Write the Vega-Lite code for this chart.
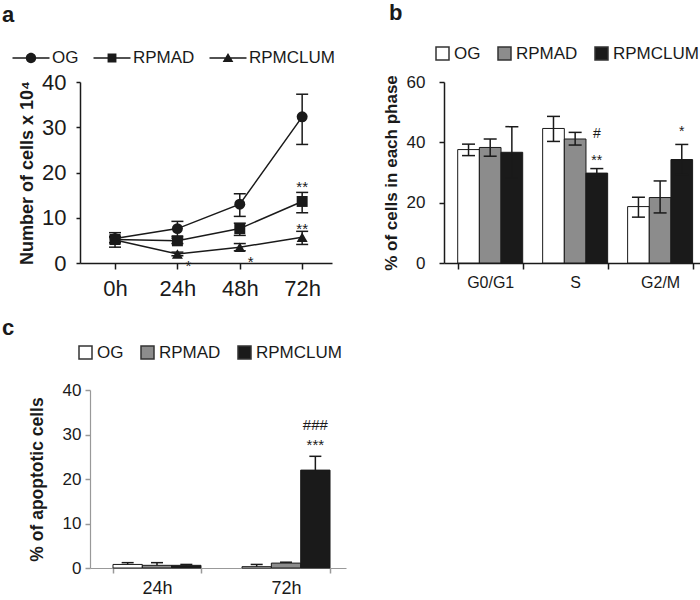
{
  "$schema": "https://vega.github.io/schema/vega-lite/v6.json",
  "padding": {"left": 2, "top": 2, "right": 0, "bottom": 0},
  "config": {
    "font": "Liberation Sans",
    "view": {"stroke": null},
    "axis": {"domainColor": "#1a1a1a", "tickColor": "#1a1a1a", "labelColor": "#1a1a1a", "titleColor": "#1a1a1a", "grid": false, "labelFont": "Liberation Sans", "titleFont": "Liberation Sans", "domainWidth": 1.5, "tickWidth": 1.5, "titleFontWeight": "bold"},
    "legend": {"labelFont": "Liberation Sans", "labelColor": "#1a1a1a"},
    "title": {"font": "Liberation Sans", "fontWeight": "bold", "fontSize": 22, "anchor": "start", "frame": "group", "color": "#1a1a1a"}
  },
  "datasets": {
    "growth": [
      {"time": "0h", "group": "OG", "value": 5.4, "lo": 3.5, "hi": 6.7},
      {"time": "24h", "group": "OG", "value": 7.6, "lo": 5.9, "hi": 9.2},
      {"time": "48h", "group": "OG", "value": 13.0, "lo": 10.3, "hi": 15.3},
      {"time": "72h", "group": "OG", "value": 32.3, "lo": 26.2, "hi": 37.3},
      {"time": "0h", "group": "RPMAD", "value": 5.2, "lo": 4.5, "hi": 5.9},
      {"time": "24h", "group": "RPMAD", "value": 4.9, "lo": 4.3, "hi": 5.5},
      {"time": "48h", "group": "RPMAD", "value": 7.6, "lo": 6.1, "hi": 8.8},
      {"time": "72h", "group": "RPMAD", "value": 13.6, "lo": 11.1, "hi": 15.6},
      {"time": "0h", "group": "RPMCLUM", "value": 5.1, "lo": 4.5, "hi": 5.7},
      {"time": "24h", "group": "RPMCLUM", "value": 2.0, "lo": 1.6, "hi": 2.4},
      {"time": "48h", "group": "RPMCLUM", "value": 3.5, "lo": 2.7, "hi": 4.3},
      {"time": "72h", "group": "RPMCLUM", "value": 5.7, "lo": 4.1, "hi": 7.0}
    ],
    "growthAnn": [
      {"time": "24h", "label": "*", "y": 0.9, "pos": "right"},
      {"time": "48h", "label": "*", "y": 1.8, "pos": "right"},
      {"time": "72h", "label": "**", "y": 18.3, "pos": "center"},
      {"time": "72h", "label": "**", "y": 9.1, "pos": "center"}
    ],
    "cycle": [
      {"phase": "G0/G1", "group": "OG", "value": 37.6, "lo": 35.6, "hi": 39.4},
      {"phase": "G0/G1", "group": "RPMAD", "value": 38.3, "lo": 35.4, "hi": 41.1},
      {"phase": "G0/G1", "group": "RPMCLUM", "value": 36.7, "lo": 28.2, "hi": 45.2},
      {"phase": "S", "group": "OG", "value": 44.6, "lo": 40.3, "hi": 48.6},
      {"phase": "S", "group": "RPMAD", "value": 41.1, "lo": 39.1, "hi": 43.3},
      {"phase": "S", "group": "RPMCLUM", "value": 29.8, "lo": 28.3, "hi": 31.3},
      {"phase": "G2/M", "group": "OG", "value": 18.7, "lo": 15.2, "hi": 21.8},
      {"phase": "G2/M", "group": "RPMAD", "value": 21.7, "lo": 16.6, "hi": 27.2},
      {"phase": "G2/M", "group": "RPMCLUM", "value": 34.3, "lo": 29.3, "hi": 39.3}
    ],
    "cycleAnn": [
      {"phase": "S", "group": "RPMCLUM", "label": "#", "y": 45.0},
      {"phase": "S", "group": "RPMCLUM", "label": "**", "y": 36.0},
      {"phase": "G2/M", "group": "RPMCLUM", "label": "*", "y": 45.7}
    ],
    "apop": [
      {"time": "24h", "group": "OG", "value": 0.8, "lo": 0.8, "hi": 1.2},
      {"time": "24h", "group": "RPMAD", "value": 0.6, "lo": 0.6, "hi": 1.2},
      {"time": "24h", "group": "RPMCLUM", "value": 0.6, "lo": 0.6, "hi": 0.8},
      {"time": "72h", "group": "OG", "value": 0.3, "lo": 0.3, "hi": 0.8},
      {"time": "72h", "group": "RPMAD", "value": 1.1, "lo": 1.1, "hi": 1.3},
      {"time": "72h", "group": "RPMCLUM", "value": 22.0, "lo": 22.0, "hi": 25.1}
    ],
    "apopAnn": [
      {"time": "72h", "group": "RPMCLUM", "label": "###", "y": 33.7},
      {"time": "72h", "group": "RPMCLUM", "label": "***", "y": 29.2}
    ]
  },
  "resolve": {"scale": {"color": "independent", "shape": "independent", "x": "independent", "y": "independent", "xOffset": "independent"}, "legend": {"color": "independent", "shape": "independent"}},
  "vconcat": [
    {
      "resolve": {"scale": {"color": "independent", "shape": "independent", "x": "independent", "y": "independent", "xOffset": "independent"}, "legend": {"color": "independent", "shape": "independent"}},
      "hconcat": [
        {
          "title": {"text": "a", "dx": -78, "dy": 5, "offset": 0, "baseline": "alphabetic"},
          "width": 252,
          "height": 181,
          "data": {"name": "growth"},
          "resolve": {"scale": {"shape": "independent"}, "legend": {"shape": "independent"}},
          "encoding": {
            "x": {"field": "time", "type": "ordinal", "sort": ["0h", "24h", "48h", "72h"], "scale": {"type": "point", "padding": 0.52, "align": 0.54}, "axis": {"title": null, "labelAngle": 0, "labelFontSize": 22, "tickSize": 6, "labelPadding": 9}}
          },
          "layer": [
            {
              "mark": {"type": "rule", "strokeWidth": 1.5, "color": "#1a1a1a"},
              "encoding": {
                "y": {"field": "lo", "type": "quantitative", "scale": {"domain": [0, 40], "nice": false}, "title": "Number of cells x 10⁴", "axis": {"values": [0, 10, 20, 30, 40], "labelFontSize": 22, "tickSize": 4, "labelPadding": 10, "titleFontSize": 18, "titlePadding": 5}},
                "y2": {"field": "hi"}
              }
            },
            {"mark": {"type": "tick", "size": 12, "thickness": 1.5, "color": "#1a1a1a", "opacity": 1}, "encoding": {"y": {"field": "lo", "type": "quantitative"}}},
            {"mark": {"type": "tick", "size": 12, "thickness": 1.5, "color": "#1a1a1a", "opacity": 1}, "encoding": {"y": {"field": "hi", "type": "quantitative"}}},
            {"mark": {"type": "line", "color": "#1a1a1a", "strokeWidth": 1.5}, "encoding": {"y": {"field": "value", "type": "quantitative"}, "detail": {"field": "group"}}},
            {
              "mark": {"type": "point", "filled": true, "color": "#1a1a1a", "opacity": 1, "size": 120},
              "encoding": {
                "y": {"field": "value", "type": "quantitative"},
                "shape": {"field": "group", "type": "nominal", "scale": {"domain": ["OG", "RPMAD", "RPMCLUM"], "range": ["circle", "square", "triangle-up"]}, "legend": null}
              }
            },
            {
              "transform": [{"filter": "false"}],
              "mark": {"type": "point", "filled": true, "color": "#1a1a1a", "opacity": 1},
              "encoding": {
                "y": {"field": "value", "type": "quantitative"},
                "shape": {
                  "field": "group", "type": "nominal",
                  "scale": {"domain": ["OG", "RPMAD", "RPMCLUM"], "range": [
                    "M-1,-0.04H1V0.04H-1ZM0.28,0A0.28,0.28,0,1,1,-0.28,0A0.28,0.28,0,1,1,0.28,0Z",
                    "M-1,-0.04H1V0.04H-1ZM-0.24,-0.24H0.24V0.24H-0.24Z",
                    "M-1,-0.04H1V0.04H-1ZM0,-0.27L0.29,0.22H-0.29Z"
                  ]},
                  "legend": {
                    "title": null, "orient": "none", "direction": "horizontal", "legendX": -68, "legendY": -43,
                    "labelFontSize": 17, "labelOffset": 2, "columnPadding": 13, "padding": 0,
                    "symbolSize": 1369, "symbolFillColor": "#1a1a1a", "symbolStrokeColor": "#1a1a1a", "symbolStrokeWidth": 0.5, "symbolOpacity": 1
                  }
                }
              }
            },
            {
              "data": {"name": "growthAnn"},
              "transform": [{"filter": "datum.pos === 'right'"}],
              "mark": {"type": "text", "baseline": "top", "align": "center", "fontSize": 15, "dx": 11, "color": "#1a1a1a"},
              "encoding": {"y": {"field": "y", "type": "quantitative"}, "text": {"field": "label"}}
            },
            {
              "data": {"name": "growthAnn"},
              "transform": [{"filter": "datum.pos === 'center'"}],
              "mark": {"type": "text", "baseline": "top", "align": "center", "fontSize": 15, "color": "#1a1a1a"},
              "encoding": {"y": {"field": "y", "type": "quantitative"}, "text": {"field": "label"}}
            }
          ]
        },
        {
          "title": {"text": "b", "dx": -55, "dy": 2, "offset": 5, "baseline": "alphabetic"},
          "width": 257,
          "height": 181,
          "data": {"name": "cycle"},
          "encoding": {
            "x": {"field": "phase", "type": "nominal", "sort": ["G0/G1", "S", "G2/M"], "scale": {"paddingInner": 0.235, "paddingOuter": 0.13, "align": 0.62}, "axis": {"title": null, "labelAngle": 0, "labelFontSize": 16, "tickBand": "extent", "tickSize": 6, "labelPadding": 5}},
            "xOffset": {"field": "group", "type": "nominal", "sort": ["OG", "RPMAD", "RPMCLUM"]}
          },
          "layer": [
            {
              "mark": {"type": "bar", "stroke": "#1a1a1a", "strokeWidth": 1},
              "encoding": {
                "y": {"field": "value", "type": "quantitative", "scale": {"domain": [0, 60], "nice": false}, "title": "% of cells in each phase", "axis": {"values": [0, 10, 20, 30, 40, 50, 60], "labelFontSize": 17, "tickSize": 5, "labelPadding": 14, "titleFontSize": 17, "titlePadding": 6}},
                "color": {
                  "field": "group", "type": "nominal",
                  "scale": {"domain": ["OG", "RPMAD", "RPMCLUM"], "range": ["#ffffff", "#8c8c8c", "#1a1a1a"]},
                  "legend": {"title": null, "orient": "none", "direction": "horizontal", "legendX": -10, "legendY": -37, "labelFontSize": 17, "labelOffset": 3, "columnPadding": 14, "padding": 0, "symbolType": "square", "symbolSize": 169, "symbolStrokeColor": "#333333", "symbolStrokeWidth": 1.5, "symbolOpacity": 1}
                }
              }
            },
            {"mark": {"type": "rule", "strokeWidth": 1.5, "color": "#1a1a1a"}, "encoding": {"y": {"field": "lo", "type": "quantitative"}, "y2": {"field": "hi"}}},
            {"mark": {"type": "tick", "size": 13, "thickness": 1.5, "color": "#1a1a1a", "opacity": 1}, "encoding": {"y": {"field": "lo", "type": "quantitative"}}},
            {"mark": {"type": "tick", "size": 13, "thickness": 1.5, "color": "#1a1a1a", "opacity": 1}, "encoding": {"y": {"field": "hi", "type": "quantitative"}}},
            {
              "data": {"name": "cycleAnn"},
              "mark": {"type": "text", "baseline": "top", "align": "center", "fontSize": 14, "color": "#1a1a1a"},
              "encoding": {"y": {"field": "y", "type": "quantitative"}, "text": {"field": "label"}}
            }
          ]
        }
      ],
      "spacing": 47
    },
    {
      "title": {"text": "c", "dx": -78, "dy": 13, "offset": 0, "baseline": "alphabetic"},
      "width": 266,
      "height": 178,
      "data": {"name": "apop"},
      "encoding": {
        "x": {"field": "time", "type": "nominal", "sort": ["24h", "72h"], "scale": {"paddingInner": 0.318, "paddingOuter": 0.151, "align": 0.59, "rangeMin": 10}, "axis": {"title": null, "labelAngle": 0, "labelFontSize": 18, "tickBand": "extent", "tickSize": 5, "labelPadding": 6, "domainColor": "#999999", "tickColor": "#999999", "domainWidth": 1.2}},
        "xOffset": {"field": "group", "type": "nominal", "sort": ["OG", "RPMAD", "RPMCLUM"]}
      },
      "layer": [
        {
          "mark": {"type": "bar", "stroke": "#1a1a1a", "strokeWidth": 1},
          "encoding": {
            "y": {"field": "value", "type": "quantitative", "scale": {"domain": [0, 40], "nice": false}, "title": "% of apoptotic cells", "axis": {"values": [0, 10, 20, 30, 40], "offset": -10, "labelFontSize": 17, "tickSize": 5, "labelPadding": 4, "titleFontSize": 17.5, "titlePadding": 16, "domainColor": "#999999", "tickColor": "#999999", "domainWidth": 1.2}},
            "color": {
              "field": "group", "type": "nominal",
              "scale": {"domain": ["OG", "RPMAD", "RPMCLUM"], "range": ["#ffffff", "#8c8c8c", "#1a1a1a"]},
              "legend": {"title": null, "orient": "none", "direction": "horizontal", "legendX": -3, "legendY": -46, "labelFontSize": 17, "labelOffset": 3, "columnPadding": 14, "padding": 0, "symbolType": "square", "symbolSize": 169, "symbolStrokeColor": "#333333", "symbolStrokeWidth": 1.5, "symbolOpacity": 1}
            }
          }
        },
        {"mark": {"type": "rule", "strokeWidth": 1.5, "color": "#1a1a1a"}, "encoding": {"y": {"field": "lo", "type": "quantitative"}, "y2": {"field": "hi"}}},
        {"mark": {"type": "tick", "size": 12, "thickness": 1.5, "color": "#1a1a1a", "opacity": 1}, "encoding": {"y": {"field": "hi", "type": "quantitative"}}},
        {
          "data": {"name": "apopAnn"},
          "mark": {"type": "text", "baseline": "top", "align": "center", "fontSize": 15, "color": "#1a1a1a"},
          "encoding": {"y": {"field": "y", "type": "quantitative"}, "text": {"field": "label"}}
        }
      ]
    }
  ],
  "spacing": 18
}
